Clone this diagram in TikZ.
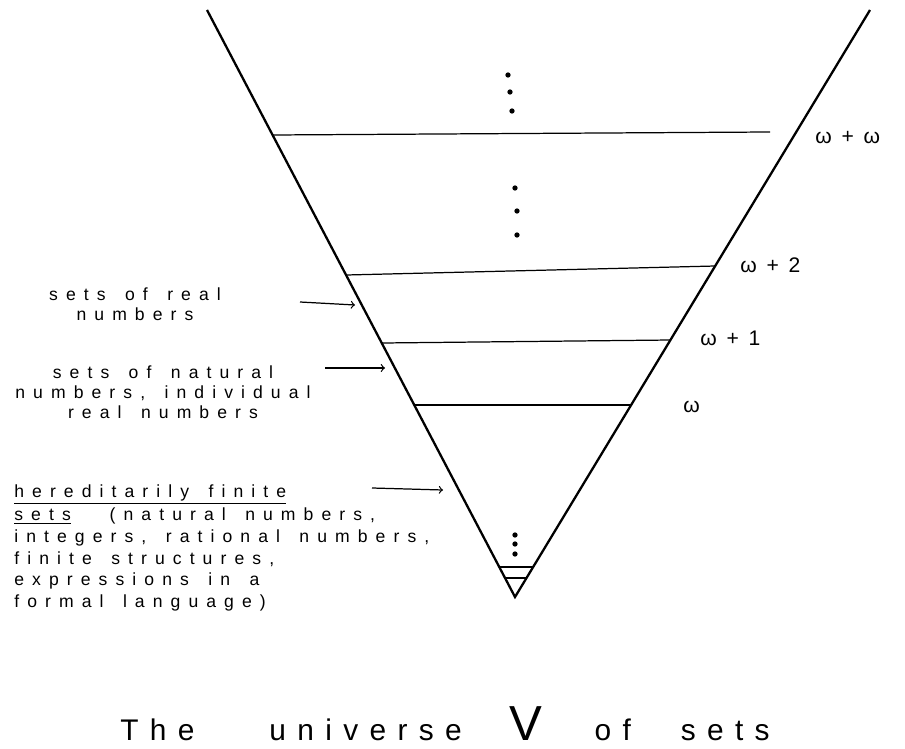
\documentclass[tikz,border=0pt]{standalone}
\usepackage{fontspec}
\newfontfamily\hand[LetterSpace=46, WordSpace=1.5]{Liberation Sans}
\newfontfamily\handtitle[LetterSpace=38]{Liberation Sans}
\usetikzlibrary{calc}
\begin{document}
\begin{tikzpicture}[x=0.02cm, y=-0.02cm, font=\hand\fontsize{10}{11.4}\selectfont]
    \tikzset{lvl/.style={line width=0.7pt},
      txt/.style={inner sep=0pt, align=left, anchor=north west},
      ordl/.style={anchor=west, inner sep=0pt, font=\hand\fontsize{12}{12}\selectfont},
      ptr/.style={->, line width=0.7pt},
      dot/.style={circle, fill, inner sep=0pt, minimum size=3.5pt}}
    \useasboundingbox (0,0) rectangle (905,749);
    % the V
    \coordinate (tl) at (207,10);
    \coordinate (tr) at (870,10);
    \coordinate (v) at (515,597);
    \draw[line width=1.3pt] (tl) -- (v) -- (tr);
    % levels: name / left height / right height
    \foreach \n/\yl/\yr in {w/405/405, w1/343/340, w2/275/266} {
      \coordinate (\n l) at ($(v)!{(597-\yl)/587}!(tl)$);
      \coordinate (\n r) at ($(v)!{(597-\yr)/587}!(tr)$);
      \draw[lvl] (\n l) -- (\n r);
    }
    \coordinate (ww l) at ($(v)!{462/587}!(tl)$);
    \coordinate (ww r) at (770,132);
    \draw[lvl] (ww l) -- (ww r);
    \node[ordl] (w)  at (683,407) {ω};
    \node[ordl] (w1) at (700,338) {ω+1};
    \node[ordl] (w2) at (740,265) {ω+2};
    \node[ordl] (ww) at (815,138) {ω+ω};
    % lowest levels
    \foreach \y in {567,578} {
      \draw[lvl] ($(v)!{(597-\y)/587}!(tl)$) -- ($(v)!{(597-\y)/587}!(tr)$);
    }
    \foreach \x/\y in {508/75, 510/92, 512/111, 515/188, 517/211, 517/235, 515/535, 515/544, 515/554}
      \node[dot, minimum size=3pt] at (\x,\y) {};
    % labels on the left
    \node[txt, align=center, anchor=north] (reals) at (135,287) {sets of real\\numbers};
    \node[txt, align=center, anchor=north] (nats) at (163,365) {sets of natural\\numbers, individual\\real numbers};
    \node[txt, font=\hand\fontsize{10}{12.4}\selectfont] (hf) at (14,484) {\underline{hereditarily finite}\\[1pt]
      \underline{sets}\ \ (natural numbers,\\integers, rational numbers,\\finite structures,\\expressions in a\\formal language)};
    \coordinate (reals e) at (355,305);
    \coordinate (nats e) at (385,368);
    \coordinate (hf e) at (443,490);
    \draw[ptr] (300,302) -- (reals e);
    \draw[ptr] (325,368) -- (nats e);
    \draw[ptr] (372,488) -- (hf e);
    % title
    \node[anchor=base, font=\handtitle\fontsize{17}{17}\selectfont] (title) at (445,740)
      {The\hspace{1.5cm}universe\hspace{0.95cm}{\fontsize{28}{28}\selectfont V}\hspace{1.05cm}of\hspace{1cm}sets};
\end{tikzpicture}
\end{document}
